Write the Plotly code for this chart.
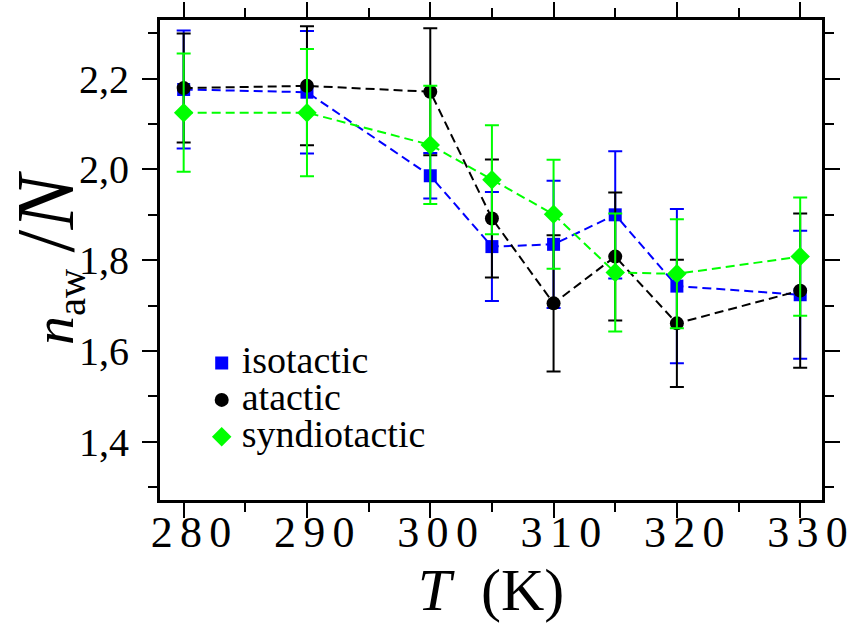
import plotly.graph_objects as go

# Temperatures (K)
temps = [280, 290, 300, 305, 310, 315, 320, 330]

# n_aw / N for each tacticity, with standard deviations
iso_vals = [2.176, 2.170, 1.986, 1.830, 1.835, 1.900, 1.743, 1.724]
iso_err = [0.130, 0.135, 0.050, 0.120, 0.140, 0.140, 0.170, 0.141]

ata_vals = [2.179, 2.184, 2.171, 1.892, 1.705, 1.808, 1.661, 1.733]
ata_err = [0.120, 0.131, 0.140, 0.130, 0.150, 0.141, 0.140, 0.170]

syn_vals = [2.125, 2.125, 2.054, 1.977, 1.901, 1.773, 1.770, 1.808]
syn_err = [0.130, 0.140, 0.130, 0.120, 0.120, 0.130, 0.120, 0.130]

x_ticks = [280, 290, 300, 310, 320, 330]
x_minor = [285, 295, 305, 315, 325]

SERIF = "Liberation Serif"


def spaced(n):
    # digits drawn with a little extra tracking
    return "\u2006\u2006" + "\u2006".join(str(n))


series = [
    ("isotactic", iso_vals, iso_err, "#0000ff", "square", 13),
    ("atactic", ata_vals, ata_err, "#000000", "circle", 14),
    ("syndiotactic", syn_vals, syn_err, "#00ff00", "diamond", 15),
]

fig = go.Figure()
for name, vals, err, color, symbol, size in series:
    # dashed connecting line (kept out of the legend)
    fig.add_trace(go.Scatter(
        x=temps, y=vals, mode="lines", showlegend=False, hoverinfo="skip",
        line=dict(color=color, width=2, dash="9px,5px"),
    ))
    # markers with error bars
    fig.add_trace(go.Scatter(
        x=temps, y=vals, name=f'<span style="font-size:38px">{name}</span>',
        mode="markers",
        marker=dict(color=color, symbol=symbol, size=size, line=dict(width=0)),
        error_y=dict(type="data", array=err, visible=True, color=color,
                     thickness=2, width=7),
    ))

axis_common = dict(
    showline=True, linewidth=3, linecolor="black", mirror="allticks",
    ticks="outside", tickwidth=2, tickcolor="black", ticklen=15,
    showgrid=False, zeroline=False,
)

fig.update_xaxes(
    **axis_common,
    range=[278.08, 331.77],
    tickmode="array", tickvals=x_ticks, ticktext=[spaced(t) for t in x_ticks],
    tickfont=dict(family=SERIF, size=44, color="black"),
    ticklabelstandoff=-24,
    ticklabeloverflow="allow",
    minor=dict(tickmode="array", tickvals=x_minor, ticklen=9, tickwidth=2,
               tickcolor="black", ticks="outside", showgrid=False),
    title=dict(text="<i>T</i>\u2002(K)", font=dict(family=SERIF, size=60, color="black"),
               standoff=8),
)

fig.update_yaxes(
    **axis_common,
    range=[1.272, 2.329],
    tick0=1.4, dtick=0.2, tickformat=".1f",
    tickfont=dict(family=SERIF, size=40, color="black"),
    ticklabelstandoff=5,
    minor=dict(tick0=1.3, dtick=0.1, ticklen=9, tickwidth=2,
               tickcolor="black", ticks="outside", showgrid=False),
    title=dict(
        text='<i>n</i><sub>aw</sub><span style="font-size:82px">\u2009/<i>N</i></span>',
        font=dict(family=SERIF, size=58, color="black"),
        standoff=2,
    ),
)

fig.update_layout(
    width=847, height=626,
    margin=dict(l=160, r=25, t=20, b=126, autoexpand=False),
    paper_bgcolor="white", plot_bgcolor="white",
    separators=",.",
    font=dict(family=SERIF, color="black"),
    showlegend=True,
    legend=dict(
        x=0.063, y=0.334, xanchor="left", yanchor="top",
        bgcolor="rgba(0,0,0,0)", borderwidth=0,
        font=dict(family=SERIF, size=26, color="black"),
        itemclick=False,
    ),
)

fig.write_html("out.html")
